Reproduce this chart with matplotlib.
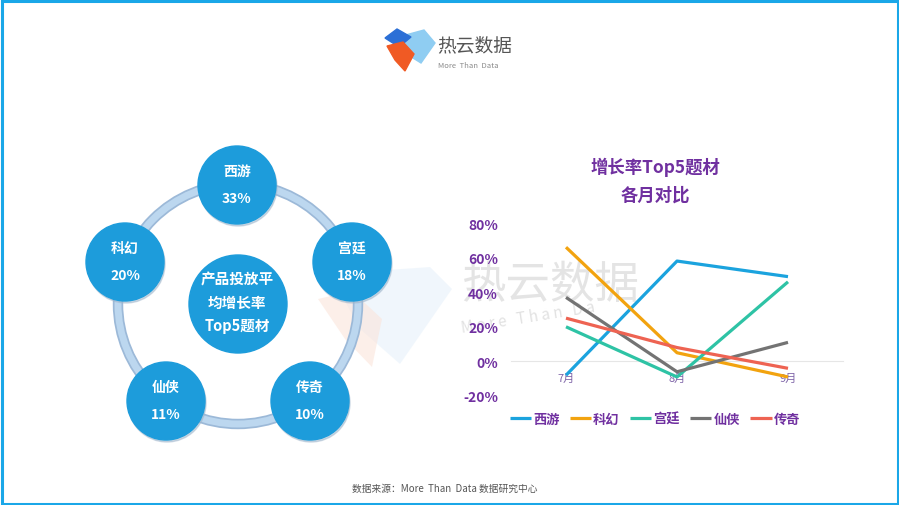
import matplotlib
matplotlib.use("Agg")
import matplotlib.pyplot as plt
from matplotlib.patches import Circle, Polygon, Rectangle

plt.rcParams["font.family"] = ["Noto Sans CJK SC", "DejaVu Sans"]

# data
months = ["7月", "8月", "9月"]
genres = ["西游", "科幻", "宫廷", "仙侠", "传奇"]
xiyou = [-8, 58, 49]
kehuan = [66, 5, -9]
gongting = [20, -9, 46]
xianxia = [37, -6, 11]
chuanqi = [25, 8, -4]
avg_rate = [33, 20, 18, 11, 10]
y_ticks = [-20, 0, 20, 40, 60, 80]

series = [xiyou, kehuan, gongting, xianxia, chuanqi]
line_colors = ["#1BA3DE", "#F2A30F", "#2EC3A5", "#737373", "#EE6352"]
purple = "#7030A0"
circle_blue = "#1D9CDB"

fig = plt.figure(figsize=(8.99, 5.06), dpi=100)

# background layer in pixel coordinates
bg = fig.add_axes([0, 0, 1, 1])
bg.set_xlim(0, 899)
bg.set_ylim(506, 0)
bg.axis("off")

bg.add_patch(Rectangle((1.5, 1.5), 896, 503, fill=False, ec="#1AA7E8", lw=2.2))

# logo
bg.add_patch(Polygon([(402, 37), (424, 31), (435, 44), (421, 64), (405, 54)], color="#8FCDF2"))
bg.add_patch(Polygon([(385, 39), (397, 30), (411, 38), (399, 48)], color="#2B6FD6"))
bg.add_patch(Polygon([(387, 47), (403, 43), (414, 55), (405, 72), (395, 61)], color="#F05A24"))
bg.text(437, 46, "热云数据", fontsize=13.5, color="#555555", va="center", ha="left")
bg.text(438, 66, "More  Than  Data", fontsize=5.5, color="#8A8A8A", va="center", ha="left")

# faint watermark
bg.add_patch(Polygon([(330, 275), (430, 268), (452, 290), (400, 365), (360, 330)],
                     color="#E3EFFA", alpha=0.5, lw=0))
bg.add_patch(Polygon([(318, 300), (352, 292), (382, 320), (372, 368), (345, 340)],
                     color="#FBE3D8", alpha=0.55, lw=0))
bg.text(550, 285, "热云数据", fontsize=32, color="#C4C4C4", alpha=0.45,
        ha="center", va="center")
bg.text(528, 318, "M o r e   T h a n   D a", fontsize=11, color="#CFCFCF", alpha=0.6,
        ha="center", va="center", rotation=9)

# ring diagram
cx, cy, R = 238, 305, 120
bg.add_patch(Circle((cx, cy), R, fill=False, ec="#9CB9D8", lw=7.5, zorder=2))
bg.add_patch(Circle((cx, cy), R, fill=False, ec="#BCD7EF", lw=5, zorder=2))
centers = [(237, 186), (125, 263), (352, 263), (166, 402), (310, 402)]
for (x, y), name, v in zip(centers, genres, avg_rate):
    bg.add_patch(Circle((x + 1, y + 2), 39, color="#9FB6CC", alpha=0.5, zorder=3))
    bg.add_patch(Circle((x, y), 39, color=circle_blue, zorder=4))
    bg.text(x, y - 14, name, color="white", fontsize=10, fontweight="bold",
            ha="center", va="center", zorder=5)
    bg.text(x, y + 13, f"{v}%", color="white", fontsize=10, fontweight="bold",
            ha="center", va="center", zorder=5)
bg.add_patch(Circle((cx, cy), 49, color=circle_blue, zorder=4))
for dy, t in zip([-25, -2, 21], ["产品投放平", "均增长率", "Top5题材"]):
    bg.text(cx - 1, cy + dy, t, color="white", fontsize=10.5, fontweight="bold",
            ha="center", va="center", zorder=5)

# chart title
bg.text(655, 167, "增长率Top5题材", color=purple, fontsize=12.5, fontweight="bold",
        ha="center", va="center")
bg.text(655, 196, "各月对比", color=purple, fontsize=12.5, fontweight="bold",
        ha="center", va="center")

# footer
bg.text(445, 489, "数据来源：More  Than  Data 数据研究中心", color="#555555", fontsize=7,
        ha="center", va="center")

# line chart
ax = fig.add_axes([510.5 / 899, (506 - 397) / 506, 333 / 899, 173 / 506])
ax.patch.set_alpha(0)
for s, name, c in zip(series, genres, line_colors):
    ax.plot(range(len(months)), s, color=c, lw=2.3, label=name, solid_capstyle="butt")
ax.set_xlim(-0.5, len(months) - 0.5)
ax.set_ylim(-20, 80)
ax.set_yticks(y_ticks)
ax.set_yticklabels([f"{t}%" for t in y_ticks])
ax.set_xticks(range(len(months)))
ax.set_xticklabels(months)
for sp in ["top", "right", "left"]:
    ax.spines[sp].set_visible(False)
ax.spines["bottom"].set_position(("data", 0))
ax.spines["bottom"].set_color("#E6E6E6")
ax.spines["bottom"].set_zorder(0)
ax.tick_params(axis="y", length=0, pad=9, labelsize=10, labelcolor=purple)
ax.tick_params(axis="x", length=0, pad=8, labelsize=8, labelcolor="#7E64A8")
for lab in ax.get_yticklabels():
    lab.set_fontweight("bold")

leg = fig.legend(loc="center", bbox_to_anchor=(655 / 899, (506 - 420) / 506), ncol=5,
                 frameon=False, handlelength=1.6, handletextpad=0.15,
                 columnspacing=0.8, prop={"size": 9.5, "weight": "bold"})
for t in leg.get_texts():
    t.set_color(purple)

fig.savefig("out.png", dpi=100)
